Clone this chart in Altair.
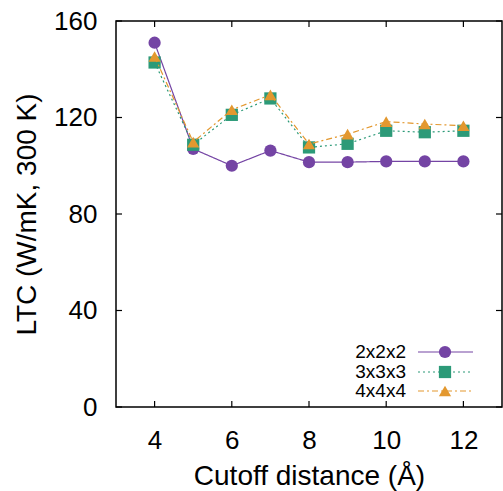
import altair as alt
import pandas as pd

cutoff = [4, 5, 6, 7, 8, 9, 10, 11, 12]
s222 = [151.0, 107.0, 100.0, 106.3, 101.5, 101.5, 101.8, 101.8, 101.8]
s333 = [142.8, 108.7, 121.1, 127.9, 107.6, 109.1, 114.5, 113.9, 114.5]
s444 = [145.3, 109.8, 123.2, 129.4, 109.0, 113.1, 118.3, 117.3, 116.6]
names = ["2x2x2", "3x3x3", "4x4x4"]
colors = ["#7444a4", "#2c9a78", "#e3982f"]
shapes = ["circle", "square", "triangle-up"]
dashes = [[1, 0], [2, 3], [6, 3, 2, 3]]
xticks = [4, 6, 8, 10, 12]
yticks = [0, 40, 80, 120, 160]

W, H = 386, 386
FONT = "Liberation Sans"
xs = alt.Scale(domain=[3, 13], nice=False, zero=False)
ys = alt.Scale(domain=[0, 160], nice=False)

layers = []
axdf = pd.DataFrame({"x": xticks, "y": yticks})
base = alt.Chart(axdf).mark_point(opacity=0).encode(
    x=alt.X("x:Q", scale=xs, axis=alt.Axis(values=xticks, title="Cutoff distance (Å)", grid=False,
                                           ticks=False, domain=False, labelPadding=20, titlePadding=9)),
    y=alt.Y("y:Q", scale=ys, axis=alt.Axis(values=yticks, title="LTC (W/mK, 300 K)", grid=False,
                                           ticks=False, domain=False, labelPadding=19, titlePadding=12)),
)
layers.append(base)

# inward ticks on all four sides
tx = pd.DataFrame({"t": xticks})
ty = pd.DataFrame({"t": yticks})
tick_style = dict(color="black", strokeWidth=1.2)
TL = 6
layers.append(alt.Chart(tx).mark_rule(**tick_style).encode(x=alt.X("t:Q", scale=xs), y=alt.value(H), y2=alt.value(H - TL)))
layers.append(alt.Chart(tx).mark_rule(**tick_style).encode(x=alt.X("t:Q", scale=xs), y=alt.value(0), y2=alt.value(TL)))
layers.append(alt.Chart(ty).mark_rule(**tick_style).encode(y=alt.Y("t:Q", scale=ys), x=alt.value(0), x2=alt.value(TL)))
layers.append(alt.Chart(ty).mark_rule(**tick_style).encode(y=alt.Y("t:Q", scale=ys), x=alt.value(W), x2=alt.value(W - TL)))

series = [s222, s333, s444]
for i, vals in enumerate(series):
    df = pd.DataFrame({"x": cutoff, "y": vals})
    layers.append(alt.Chart(df).mark_line(color=colors[i], strokeWidth=1.2, strokeDash=dashes[i]).encode(
        x=alt.X("x:Q", scale=xs), y=alt.Y("y:Q", scale=ys)))
    layers.append(alt.Chart(df).mark_point(color=colors[i], filled=True, opacity=1, size=150, shape=shapes[i]).encode(
        x=alt.X("x:Q", scale=xs), y=alt.Y("y:Q", scale=ys)))

# legend (inside, bottom right)
rows = [331, 351, 370]
for i, name in enumerate(names):
    ldf = pd.DataFrame({"name": [name]})
    layers.append(alt.Chart(ldf).mark_text(align="right", baseline="middle", font=FONT, fontSize=19, color="black").encode(
        text="name:N", x=alt.value(290), y=alt.value(rows[i])))
    layers.append(alt.Chart(ldf).mark_rule(color=colors[i], strokeWidth=1.2, strokeDash=dashes[i]).encode(
        x=alt.value(302), x2=alt.value(357), y=alt.value(rows[i])))
    layers.append(alt.Chart(ldf).mark_point(color=colors[i], filled=True, opacity=1, size=150, shape=shapes[i]).encode(
        x=alt.value(329), y=alt.value(rows[i])))

chart = alt.layer(*layers).properties(
    width=W, height=H,
    autosize=alt.AutoSizeParams(type="none"),
    padding={"left": 116, "top": 21, "right": 1, "bottom": 84},
    background="white",
).configure_view(stroke="black", strokeWidth=1.5).configure_axis(
    labelFont=FONT, labelFontSize=26, labelColor="black",
    titleFont=FONT, titleFontSize=28, titleFontWeight="normal", titleColor="black",
)

chart.save("out.html", embed_options={"renderer": "svg", "actions": False})
